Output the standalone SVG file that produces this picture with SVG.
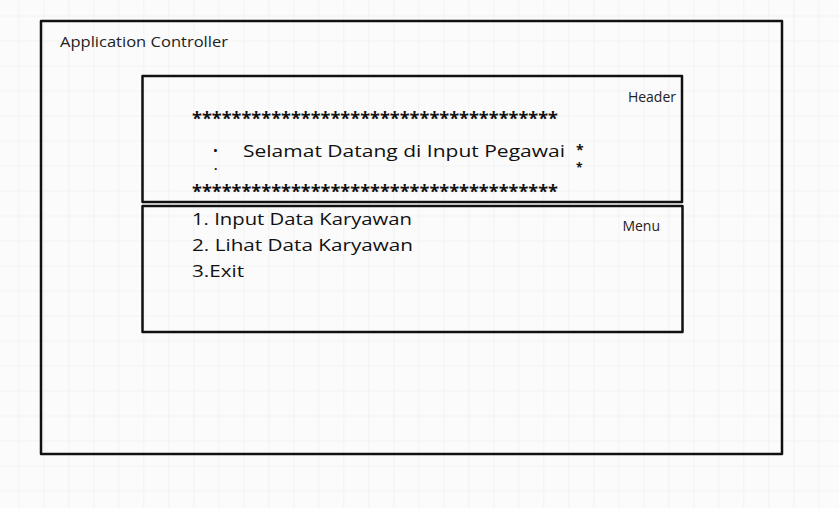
<svg xmlns="http://www.w3.org/2000/svg" width="839" height="508" viewBox="0 0 839 508">
  <defs>
    <pattern id="grid" patternUnits="userSpaceOnUse" x="18.3" y="15.5" width="25" height="25">
      <path d="M0 0V25M0 0H25" fill="none" stroke="#ececec" stroke-width="1.2"/>
    </pattern>
  </defs>
  <style>
    .box{fill:none;stroke:#111;stroke-width:2.5;stroke-linejoin:round}
    .lbl{font-family:"Open Sans","Liberation Sans",sans-serif;font-size:14px;fill:#222}
    .big{font-family:"Open Sans","Liberation Sans",sans-serif;font-size:17px;fill:#111}
    .star{font-family:"Open Sans","Liberation Sans",sans-serif;font-size:17px;font-weight:bold;fill:#111}
    .sm{font-family:"Open Sans","Liberation Sans",sans-serif;font-size:12px;font-weight:bold;fill:#111}
  </style>
  <rect width="839" height="508" fill="#fbfbfb"/>
  <rect width="839" height="508" fill="url(#grid)"/>
  <g id="app-controller">
    <rect class="box" x="41" y="21" width="741" height="433"/>
    <text class="lbl" x="60" y="47" textLength="168" lengthAdjust="spacingAndGlyphs">Application Controller</text>
  </g>
  <g id="header">
    <rect class="box" x="142.5" y="76" width="539.5" height="126"/>
    <text class="lbl" x="676" y="102" text-anchor="end">Header</text>
    <text class="star" x="192" y="125" textLength="366" lengthAdjust="spacingAndGlyphs">*************************************</text>
    <text class="big" y="157"><tspan x="213" y="157" font-weight="bold">·</tspan><tspan x="243" y="157" textLength="322" lengthAdjust="spacingAndGlyphs">Selamat Datang di Input Pegawai</tspan><tspan x="576" y="155" font-size="14" font-weight="bold">*</tspan></text>
    <text class="sm" y="173"><tspan x="214" y="173">·</tspan><tspan x="576" y="172">*</tspan></text>
    <text class="star" x="192" y="198" textLength="366" lengthAdjust="spacingAndGlyphs">*************************************</text>
  </g>
  <g id="menu">
    <rect class="box" x="142.5" y="206" width="540" height="126"/>
    <text class="lbl" x="660" y="231" text-anchor="end">Menu</text>
    <text class="big" x="192" y="225" textLength="220" lengthAdjust="spacingAndGlyphs">1. Input Data Karyawan</text>
    <text class="big" x="192" y="251" textLength="221" lengthAdjust="spacingAndGlyphs">2. Lihat Data Karyawan</text>
    <text class="big" x="192" y="277" textLength="52" lengthAdjust="spacingAndGlyphs">3.Exit</text>
  </g>
  <g id="connectors"/>
</svg>
